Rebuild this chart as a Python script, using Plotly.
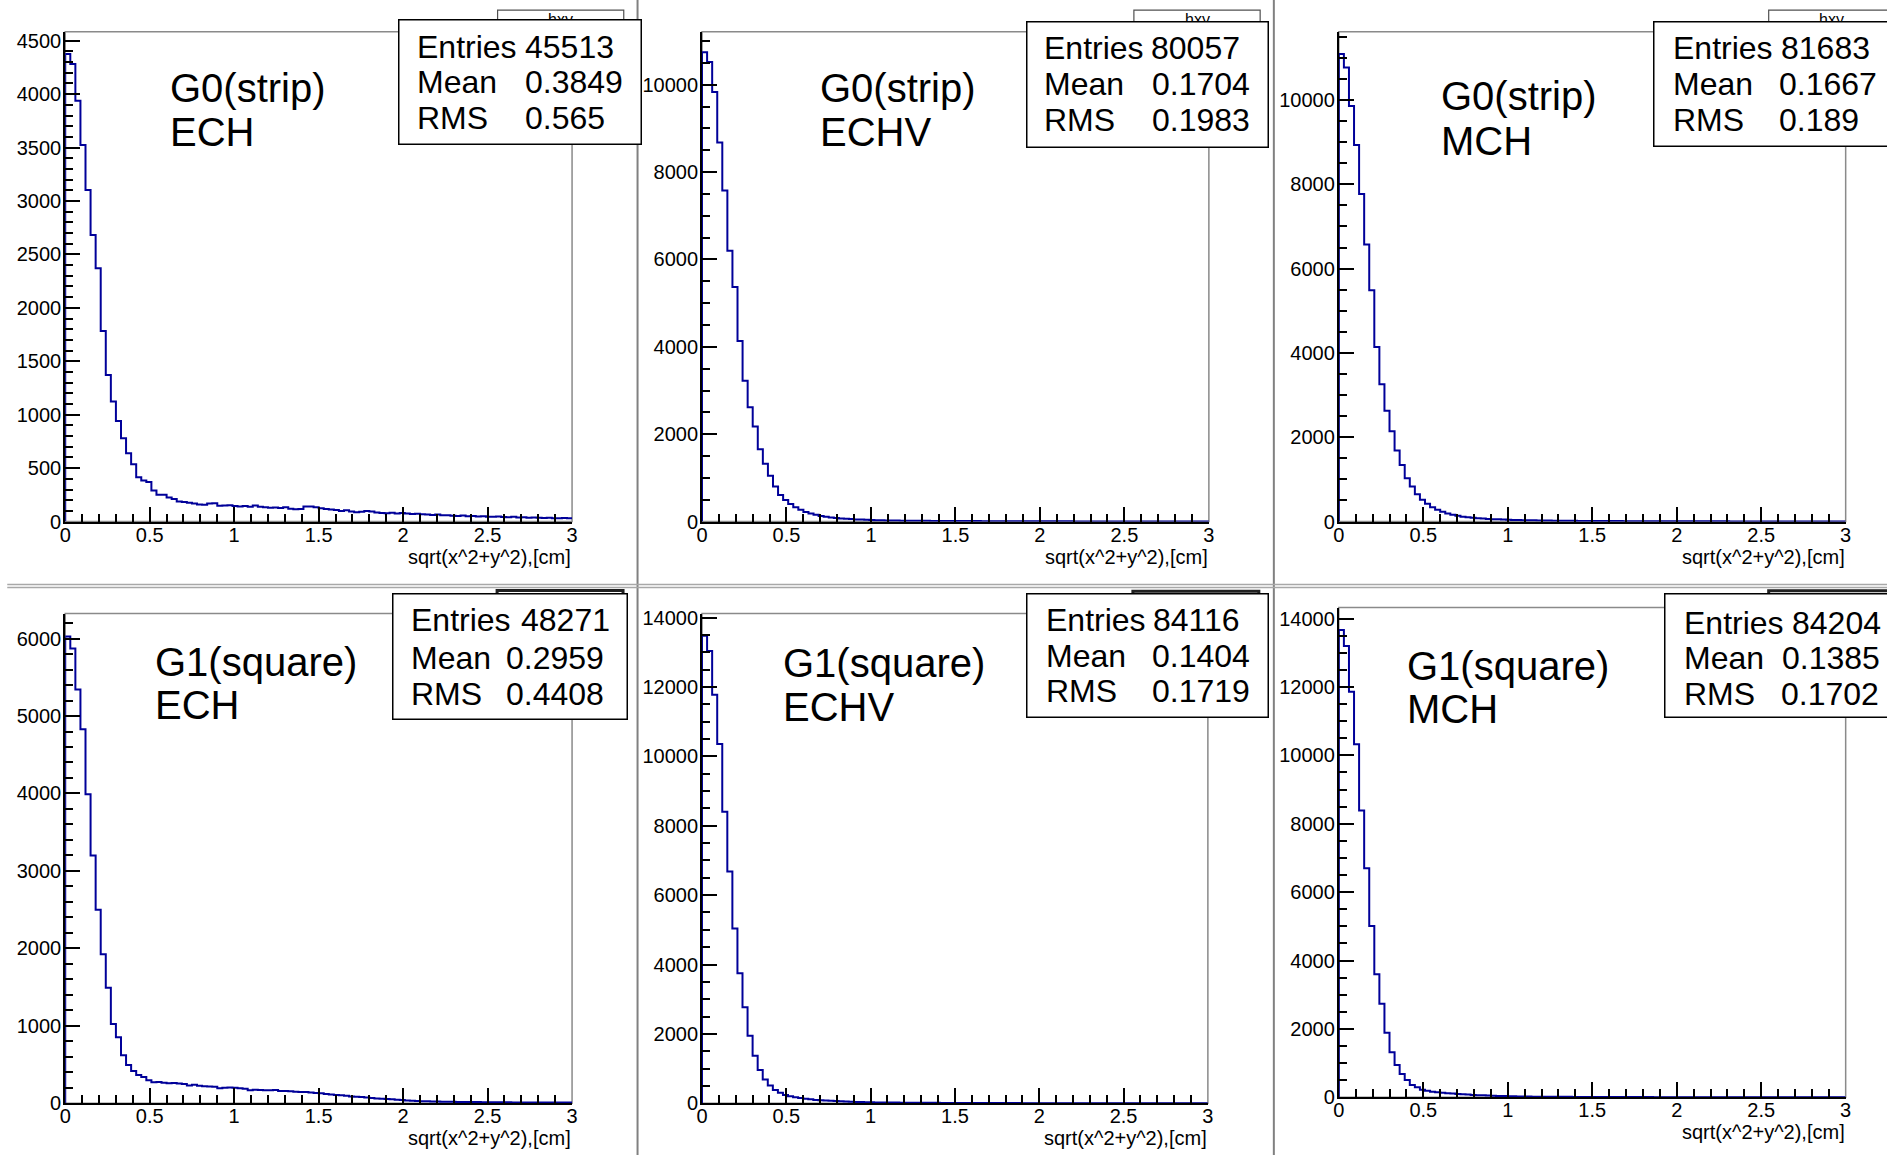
import plotly.graph_objects as go
import numpy as np

# ---------------- data ----------------
BIN_LO = 0.0
BIN_HI = 3.0
N_BINS = 100

counts_g0_ech = [
    4375, 4282, 3939, 3524, 3103, 2682, 2370, 1784, 1372, 1123,
    942, 779, 639, 536, 415, 384, 371, 290, 250, 250,
    225, 212, 187, 182, 176, 168, 160, 158, 170, 172,
    148, 150, 152, 146, 142, 145, 138, 150, 138, 135,
    130, 132, 128, 135, 120, 115, 118, 140, 142, 135,
    125, 118, 112, 108, 100, 105, 95, 88, 92, 98,
    95, 85, 80, 78, 82, 76, 80, 75, 70, 72,
    68, 65, 62, 66, 58, 60, 55, 52, 56, 50,
    52, 48, 50, 46, 45, 48, 42, 40, 44, 38,
    40, 36, 38, 35, 34, 36, 32, 30, 33, 30]

counts_g0_echv = [
    10744, 10523, 9835, 8678, 7576, 6198, 5372, 4132, 3223, 2617,
    2176, 1653, 1322, 1047, 800, 606, 496, 400, 330, 270,
    220, 185, 155, 130, 110, 95, 82, 72, 63, 56,
    50, 45, 40, 36, 32, 29, 27, 25, 23, 21,
    20, 19, 18, 17, 16, 15, 14, 14, 13, 12,
    12, 11, 11, 10, 10, 9, 9, 9, 8, 8,
    8, 7, 7, 7, 6, 6, 6, 6, 5, 5,
    5, 5, 5, 4, 4, 4, 4, 4, 4, 3,
    3, 3, 3, 3, 3, 3, 3, 2, 2, 2,
    2, 2, 2, 2, 2, 2, 2, 2, 2, 2]

counts_g0_mch = [
    11091, 10773, 9858, 8933, 7771, 6571, 5486, 4143, 3257, 2629,
    2143, 1686, 1343, 1029, 829, 650, 520, 420, 340, 280,
    230, 190, 160, 135, 115, 100, 88, 78, 70, 63,
    57, 52, 47, 43, 40, 37, 34, 31, 29, 27,
    25, 23, 22, 20, 19, 18, 17, 16, 15, 14,
    13, 13, 12, 12, 11, 11, 10, 10, 9, 9,
    9, 8, 8, 8, 7, 7, 7, 7, 6, 6,
    6, 6, 5, 5, 5, 5, 5, 4, 4, 4,
    4, 4, 4, 3, 3, 3, 3, 3, 3, 3,
    3, 3, 2, 2, 2, 2, 2, 2, 2, 2]

counts_g1_ech = [
    6025, 5870, 5342, 4829, 3990, 3199, 2500, 1925, 1491, 1025,
    854, 621, 495, 417, 366, 340, 297, 271, 275, 267,
    258, 262, 255, 250, 232, 240, 228, 220, 219, 215,
    194, 200, 205, 202, 196, 190, 168, 175, 172, 170,
    168, 172, 159, 160, 155, 150, 146, 148, 140, 135,
    129, 122, 115, 108, 103, 98, 90, 85, 82, 75,
    68, 64, 60, 55, 52, 47, 42, 38, 35, 30,
    28, 27, 25, 24, 22, 21, 20, 19, 18, 17,
    17, 16, 15, 15, 14, 14, 13, 13, 12, 12,
    12, 11, 11, 11, 10, 10, 10, 10, 10, 10]

counts_g1_echv = [
    13474, 13035, 11776, 10352, 8402, 6682, 5039, 3746, 2771, 1950,
    1369, 964, 690, 515, 383, 307, 241, 208, 175, 153,
    131, 115, 100, 90, 80, 72, 65, 58, 52, 47,
    42, 38, 34, 30, 28, 26, 24, 22, 21, 20,
    19, 18, 17, 16, 15, 14, 14, 13, 12, 12,
    11, 11, 10, 10, 9, 9, 9, 8, 8, 8,
    7, 7, 7, 6, 6, 6, 6, 5, 5, 5,
    5, 5, 4, 4, 4, 4, 4, 4, 3, 3,
    3, 3, 3, 3, 3, 3, 2, 2, 2, 2,
    2, 2, 2, 2, 2, 2, 2, 2, 2, 2]

counts_g1_mch = [
    13661, 13193, 11857, 10322, 8386, 6699, 5013, 3602, 2736, 1886,
    1320, 947, 683, 507, 361, 293, 225, 196, 167, 150,
    135, 122, 110, 98, 88, 80, 72, 65, 58, 52,
    46, 41, 37, 33, 30, 27, 25, 23, 21, 20,
    19, 18, 17, 16, 15, 14, 13, 12, 12, 11,
    11, 10, 10, 9, 9, 9, 8, 8, 8, 7,
    7, 7, 6, 6, 6, 6, 5, 5, 5, 5,
    5, 4, 4, 4, 4, 4, 4, 3, 3, 3,
    3, 3, 3, 3, 3, 3, 2, 2, 2, 2,
    2, 2, 2, 2, 2, 2, 2, 2, 2, 2]

all_counts = [counts_g0_ech, counts_g0_echv, counts_g0_mch,
              counts_g1_ech, counts_g1_echv, counts_g1_mch]

label_line1 = ["G0(strip)", "G0(strip)", "G0(strip)",
               "G1(square)", "G1(square)", "G1(square)"]
label_line2 = ["ECH", "ECHV", "MCH", "ECH", "ECHV", "MCH"]

stat_entries = ["45513", "80057", "81683", "48271", "84116", "84204"]
stat_means = ["0.3849", "0.1704", "0.1667", "0.2959", "0.1404", "0.1385"]
stat_rms = ["0.565", "0.1983", "0.189", "0.4408", "0.1719", "0.1702"]
stat_names = ["Entries", "Mean", "RMS"]

hist_name = "hxy"
x_title = "sqrt(x^2+y^2),[cm]"
y_major_step = [500, 2000, 2000, 1000, 2000, 2000]
y_minor_step = [100, 500, 500, 200, 500, 500]
x_major_step = 0.5
x_minor_step = 0.1

# ---------------- layout geometry ----------------
# positions below are screenshot pixels; a measured page->screenshot
# transform (scale + offset) is compensated in fx / fy.
W, H = 1900, 1172
AX, BX = 0.994, 4.75
AY, BY = 0.985, 5.25
FONT = "Liberation Sans, Arial, Helvetica, sans-serif"


def fx(px):
    return ((px - BX) / AX) / W


def fy(py):
    return 1 - ((py - BY) / AY) / H


frames = [
    dict(x0=64, x1=571, y0=30, y1=520, ymax=4584),
    dict(x0=701, x1=1208, y0=30, y1=520, ymax=11213),
    dict(x0=1338, x1=1845, y0=30, y1=520, ymax=11620),
    dict(x0=64, x1=571, y0=612, y1=1102, ymax=6323),
    dict(x0=701, x1=1207, y0=612, y1=1102, ymax=14115),
    dict(x0=1338, x1=1845, y0=606, y1=1096, ymax=14321),
]

stat_boxes = [
    dict(bx0=397, bx1=641, by0=17, by1=143, lab_x=416, val_x=[524, 524, 524], ly=[45, 80.7, 116]),
    dict(bx0=1025, bx1=1268, by0=19, by1=146, lab_x=1043, val_x=[1150, 1151, 1151], ly=[46.5, 82.2, 118]),
    dict(bx0=1652.6, bx1=1915, by0=19, by1=145, lab_x=1672, val_x=[1780.5, 1778.5, 1778.5], ly=[45.8, 82.5, 118.3]),
    dict(bx0=391, bx1=627, by0=591, by1=718, lab_x=410, val_x=[520, 505, 505], ly=[618.5, 656, 692]),
    dict(bx0=1025, bx1=1268, by0=591, by1=716, lab_x=1045, val_x=[1152.6, 1151.3, 1151.3], ly=[618.2, 654.9, 689.4]),
    dict(bx0=1663.5, bx1=1915, by0=591.7, by1=717, lab_x=1683, val_x=[1791.5, 1781.6, 1780.8], ly=[621, 656.7, 692.5]),
]

title_boxes = [
    dict(x0=496.5, x1=622.7, y0=8.3, top=True),
    dict(x0=1133, x1=1259.3, y0=8.3, top=True),
    dict(x0=1768, x1=1894, y0=8.3, top=True),
    dict(x0=496, x1=622, y0=589, top=False),
    dict(x0=1132, x1=1258, y0=589.6, top=False),
    dict(x0=1768, x1=1894, y0=589.3, top=False),
]

big_labels = [
    (169, 86, 130), (819.5, 86, 130), (1440, 94.5, 139),
    (154, 660.7, 704), (782, 661, 706), (1406, 664.5, 708),
]
TXT_DX = -2

# ---------------- figure ----------------
edges = np.linspace(BIN_LO, BIN_HI, N_BINS + 1)
fig = go.Figure()
layout = dict(
    width=W, height=H, margin=dict(l=0, r=0, t=0, b=0),
    paper_bgcolor="white", plot_bgcolor="white", showlegend=False,
    font=dict(family=FONT, color="black"),
)
shapes = []
annotations = []

for i, (counts, fr) in enumerate(zip(all_counts, frames)):
    n = i + 1
    xa = "xaxis" if n == 1 else f"xaxis{n}"
    ya = "yaxis" if n == 1 else f"yaxis{n}"
    xr = "x" if n == 1 else f"x{n}"
    yr = "y" if n == 1 else f"y{n}"
    xs = [BIN_LO] + list(edges[:-1]) + [BIN_HI]
    ys = [0] + list(counts) + [counts[-1]]
    fig.add_trace(go.Scatter(x=xs, y=ys, mode="lines", line_shape="hv",
                             line=dict(color="#000099", width=2),
                             xaxis=xr, yaxis=yr, hoverinfo="skip"))
    layout[xa] = dict(
        domain=[fx(fr["x0"]), fx(fr["x1"])], range=[BIN_LO, BIN_HI], anchor=yr,
        showline=True, linecolor="black", linewidth=2, showgrid=False, zeroline=False,
        ticks="inside", ticklen=15, tickwidth=2, tickcolor="black",
        tick0=0, dtick=x_major_step, ticklabelstandoff=-6,
        minor=dict(dtick=x_minor_step, ticks="inside", ticklen=8, tickwidth=1.5, tickcolor="black"),
        tickfont=dict(size=20, family=FONT, color="black"), fixedrange=True,
    )
    layout[ya] = dict(
        domain=[fy(fr["y1"]), fy(fr["y0"])], range=[0, fr["ymax"]], anchor=xr,
        showline=True, linecolor="black", linewidth=2, showgrid=False, zeroline=False,
        ticks="inside", ticklen=15, tickwidth=2, tickcolor="black",
        tick0=0, dtick=y_major_step[i], tickformat="d", ticklabelstandoff=-2,
        minor=dict(dtick=y_minor_step[i], ticks="inside", ticklen=8, tickwidth=1.5, tickcolor="black"),
        tickfont=dict(size=20, family=FONT, color="black"), fixedrange=True,
    )
    shapes.append(dict(type="rect", xref=f"{xr} domain", yref=f"{yr} domain",
                       x0=0, x1=1, y0=0, y1=1, line=dict(color="#8a8a8a", width=1.5),
                       layer="below"))
    annotations.append(dict(xref="paper", yref="paper", x=fx(fr["x1"] + 1), y=fy(fr["y1"] + 35),
                            xanchor="right", yanchor="middle", showarrow=False,
                            text=x_title, font=dict(size=20, family=FONT, color="black")))

# pad separators
for xline in (636.5, 1273):
    shapes.append(dict(type="line", xref="paper", yref="paper",
                       x0=fx(xline), x1=fx(xline), y0=-0.01, y1=1.01,
                       line=dict(color="#808080", width=2)))
for yline in (583, 586):
    shapes.append(dict(type="line", xref="paper", yref="paper",
                       x0=fx(6), x1=1.01, y0=fy(yline), y1=fy(yline),
                       line=dict(color="#a8a8a8", width=1.5)))

# title boxes behind the stats boxes
for tb in title_boxes:
    shapes.append(dict(type="rect", xref="paper", yref="paper",
                       x0=fx(tb["x0"]), x1=fx(tb["x1"]), y0=fy(tb["y0"] + 50), y1=fy(tb["y0"]),
                       fillcolor="white",
                       line=dict(color="#505050" if tb["top"] else "#202020",
                                 width=1.2 if tb["top"] else 3)))
    if tb["top"]:
        annotations.append(dict(xref="paper", yref="paper", x=fx((tb["x0"] + tb["x1"]) / 2),
                                y=fy(tb["y0"] + 9), xanchor="center", yanchor="middle",
                                showarrow=False, text=hist_name,
                                font=dict(size=16, family=FONT, color="black")))

# stats boxes
for i, sb in enumerate(stat_boxes):
    bw = 1.5
    annotations.append(dict(xref="paper", yref="paper", x=fx(sb["bx0"]), y=fy(sb["by0"]),
                            xanchor="left", yanchor="top", showarrow=False, text=" ",
                            width=sb["bx1"] - sb["bx0"] - 2 * bw,
                            height=sb["by1"] - sb["by0"] - 2 * bw,
                            bgcolor="white", bordercolor="black", borderwidth=bw, borderpad=0))
    vals = [stat_entries[i], stat_means[i], stat_rms[i]]
    for k in range(3):
        annotations.append(dict(xref="paper", yref="paper", x=fx(sb["lab_x"] + TXT_DX), y=fy(sb["ly"][k]),
                                xanchor="left", yanchor="middle", showarrow=False,
                                text=stat_names[k], font=dict(size=32, family=FONT, color="black")))
        annotations.append(dict(xref="paper", yref="paper", x=fx(sb["val_x"][k] + TXT_DX), y=fy(sb["ly"][k]),
                                xanchor="left", yanchor="middle", showarrow=False,
                                text=vals[k], font=dict(size=32, family=FONT, color="black")))

# big labels
for i, (lx, y1, y2) in enumerate(big_labels):
    for txt, yy in ((label_line1[i], y1), (label_line2[i], y2)):
        annotations.append(dict(xref="paper", yref="paper", x=fx(lx + TXT_DX), y=fy(yy),
                                xanchor="left", yanchor="middle", showarrow=False,
                                text=txt, font=dict(size=40, family=FONT, color="black")))

layout["shapes"] = shapes
layout["annotations"] = annotations
fig.update_layout(**layout)
fig.write_html("out.html")
